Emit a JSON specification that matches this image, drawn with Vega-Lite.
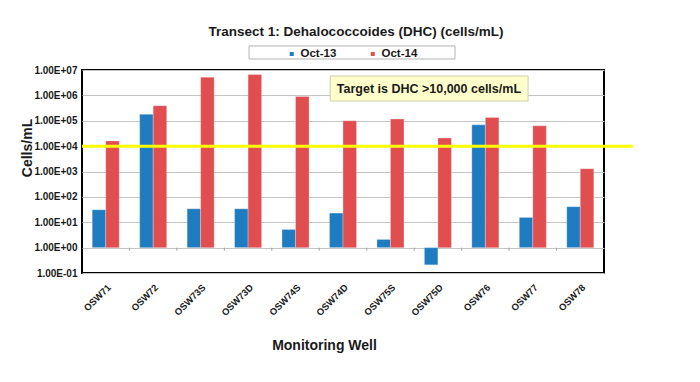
{
  "$schema": "https://vega.github.io/schema/vega-lite/v6.json",
  "width": 522,
  "height": 203,
  "autosize": {"type": "none"},
  "padding": {"left": 82, "top": 70, "right": 96, "bottom": 109},
  "background": "white",
  "config": {
    "font": "Liberation Sans",
    "view": {"stroke": "black", "strokeWidth": 2}
  },
  "title": {
    "text": "Transect 1: Dehalococcoides (DHC) (cells/mL)",
    "fontSize": 13.5,
    "fontWeight": "bold",
    "color": "#1a1a1a",
    "anchor": "middle",
    "dx": 13,
    "offset": 7
  },
  "resolve": {"scale": {"x": "independent"}, "axis": {"x": "independent"}},
  "layer": [
    {
      "data": {
        "values": [
          {"well": "OSW71", "series": "Oct-13", "value": 31},
          {"well": "OSW71", "series": "Oct-14", "value": 16000},
          {"well": "OSW72", "series": "Oct-13", "value": 180000},
          {"well": "OSW72", "series": "Oct-14", "value": 390000},
          {"well": "OSW73S", "series": "Oct-13", "value": 34},
          {"well": "OSW73S", "series": "Oct-14", "value": 5200000},
          {"well": "OSW73D", "series": "Oct-13", "value": 34},
          {"well": "OSW73D", "series": "Oct-14", "value": 6600000},
          {"well": "OSW74S", "series": "Oct-13", "value": 5.2},
          {"well": "OSW74S", "series": "Oct-14", "value": 910000},
          {"well": "OSW74D", "series": "Oct-13", "value": 23},
          {"well": "OSW74D", "series": "Oct-14", "value": 100000},
          {"well": "OSW75S", "series": "Oct-13", "value": 2.1},
          {"well": "OSW75S", "series": "Oct-14", "value": 117000},
          {"well": "OSW75D", "series": "Oct-13", "value": 0.21},
          {"well": "OSW75D", "series": "Oct-14", "value": 21000},
          {"well": "OSW76", "series": "Oct-13", "value": 69000},
          {"well": "OSW76", "series": "Oct-14", "value": 135000},
          {"well": "OSW77", "series": "Oct-13", "value": 15.5},
          {"well": "OSW77", "series": "Oct-14", "value": 63000},
          {"well": "OSW78", "series": "Oct-13", "value": 41},
          {"well": "OSW78", "series": "Oct-14", "value": 1290}
        ]
      },
      "mark": {"type": "bar", "stroke": "white", "strokeOpacity": 0.35, "strokeWidth": 0.8},
      "encoding": {
        "x": {
          "field": "well",
          "type": "nominal",
          "sort": null,
          "scale": {"paddingInner": 0.43, "paddingOuter": 0.215},
          "axis": {
            "title": "Monitoring Well",
            "titleFontSize": 14,
            "titleFontWeight": "bold",
            "titleColor": "#1a1a1a",
            "titleX": 242,
            "titleY": 76,
            "titleBaseline": "alphabetic",
            "labelAngle": -45,
            "labelFontSize": 9.5,
            "labelFontWeight": "bold",
            "labelColor": "#1a1a1a",
            "labelPadding": 9,
            "domain": false,
            "ticks": false
          }
        },
        "xOffset": {"field": "series", "type": "nominal", "scale": {"paddingInner": 0}},
        "y": {
          "field": "value",
          "type": "quantitative",
          "scale": {"type": "log", "domain": [0.1, 10000000], "nice": false},
          "axis": {
            "title": "Cells/mL",
            "titleFontSize": 14,
            "titleFontWeight": "bold",
            "titleColor": "#1a1a1a",
            "titleX": -55,
            "titleY": 77.5,
            "titleBaseline": "middle",
            "values": [0.1, 1, 10, 100, 1000, 10000, 100000, 1000000, 10000000],
            "labelExpr": "'1.00E' + (round(log(datum.value)/LN10) < 0 ? '-' : '+') + (abs(round(log(datum.value)/LN10)) < 10 ? '0' : '') + abs(round(log(datum.value)/LN10))",
            "labelFontSize": 10,
            "labelFontWeight": "bold",
            "labelColor": "#1a1a1a",
            "labelPadding": 5,
            "domain": false,
            "ticks": false,
            "grid": true,
            "gridColor": "#c4c4c4",
            "gridWidth": 1.2
          }
        },
        "y2": {"datum": 1},
        "color": {
          "field": "series",
          "type": "nominal",
          "scale": {"domain": ["Oct-13", "Oct-14"], "range": ["#1f7cc1", "#e04e50"]},
          "legend": {
            "title": null,
            "orient": "none",
            "direction": "horizontal",
            "legendX": 202,
            "legendY": -24,
            "symbolType": "square",
            "symbolSize": 30,
            "labelFontSize": 11.5,
            "labelFontWeight": "bold",
            "labelColor": "#1a1a1a",
            "labelOffset": 3,
            "columnPadding": 30,
            "padding": 2
          }
        }
      }
    },
    {
      "data": {
        "values": [
          {"kind": "threshold", "x": 0, "x2": 11.61, "y": 10000},
          {"kind": "box", "x": 5.23, "x2": 9.4, "y": 600000, "y2": 5800000},
          {"kind": "legendbox", "x": 3.52, "x2": 7.86, "y": 27100000, "y2": 88300000},
          {"kind": "label", "x": 7.31, "y": 1860000, "text": "Target is DHC >10,000 cells/mL"},
          {"kind": "tick", "x": 1, "y": 1, "y2": 0.76},
          {"kind": "tick", "x": 2, "y": 1, "y2": 0.76},
          {"kind": "tick", "x": 3, "y": 1, "y2": 0.76},
          {"kind": "tick", "x": 4, "y": 1, "y2": 0.76},
          {"kind": "tick", "x": 5, "y": 1, "y2": 0.76},
          {"kind": "tick", "x": 6, "y": 1, "y2": 0.76},
          {"kind": "tick", "x": 7, "y": 1, "y2": 0.76},
          {"kind": "tick", "x": 8, "y": 1, "y2": 0.76},
          {"kind": "tick", "x": 9, "y": 1, "y2": 0.76},
          {"kind": "tick", "x": 10, "y": 1, "y2": 0.76}
        ]
      },
      "encoding": {
        "x": {"field": "x", "type": "quantitative", "scale": {"domain": [0, 11], "nice": false, "zero": false}, "axis": null},
        "y": {"field": "y", "type": "quantitative"}
      },
      "layer": [
        {
          "transform": [{"filter": "datum.kind === 'tick'"}],
          "mark": {"type": "rule", "color": "#a0a0a0", "strokeWidth": 1},
          "encoding": {"y2": {"field": "y2"}}
        },
        {
          "transform": [{"filter": "datum.kind === 'threshold'"}],
          "mark": {"type": "rule", "color": "#ffff00", "strokeWidth": 3, "clip": false},
          "encoding": {"x2": {"field": "x2"}}
        },
        {
          "transform": [{"filter": "datum.kind === 'legendbox'"}],
          "mark": {"type": "rect", "fill": "white", "stroke": "#b4b4b4", "strokeWidth": 1, "clip": false},
          "encoding": {"x2": {"field": "x2"}, "y2": {"field": "y2"}}
        },
        {
          "transform": [{"filter": "datum.kind === 'box'"}],
          "mark": {"type": "rect", "fill": "#ffffcc", "stroke": "#cfcfa8", "strokeWidth": 1},
          "encoding": {"x2": {"field": "x2"}, "y2": {"field": "y2"}}
        },
        {
          "transform": [{"filter": "datum.kind === 'label'"}],
          "mark": {"type": "text", "fontSize": 12.5, "fontWeight": "bold", "color": "#1a1a1a", "align": "center", "baseline": "middle"},
          "encoding": {"text": {"field": "text"}}
        }
      ]
    }
  ]
}
